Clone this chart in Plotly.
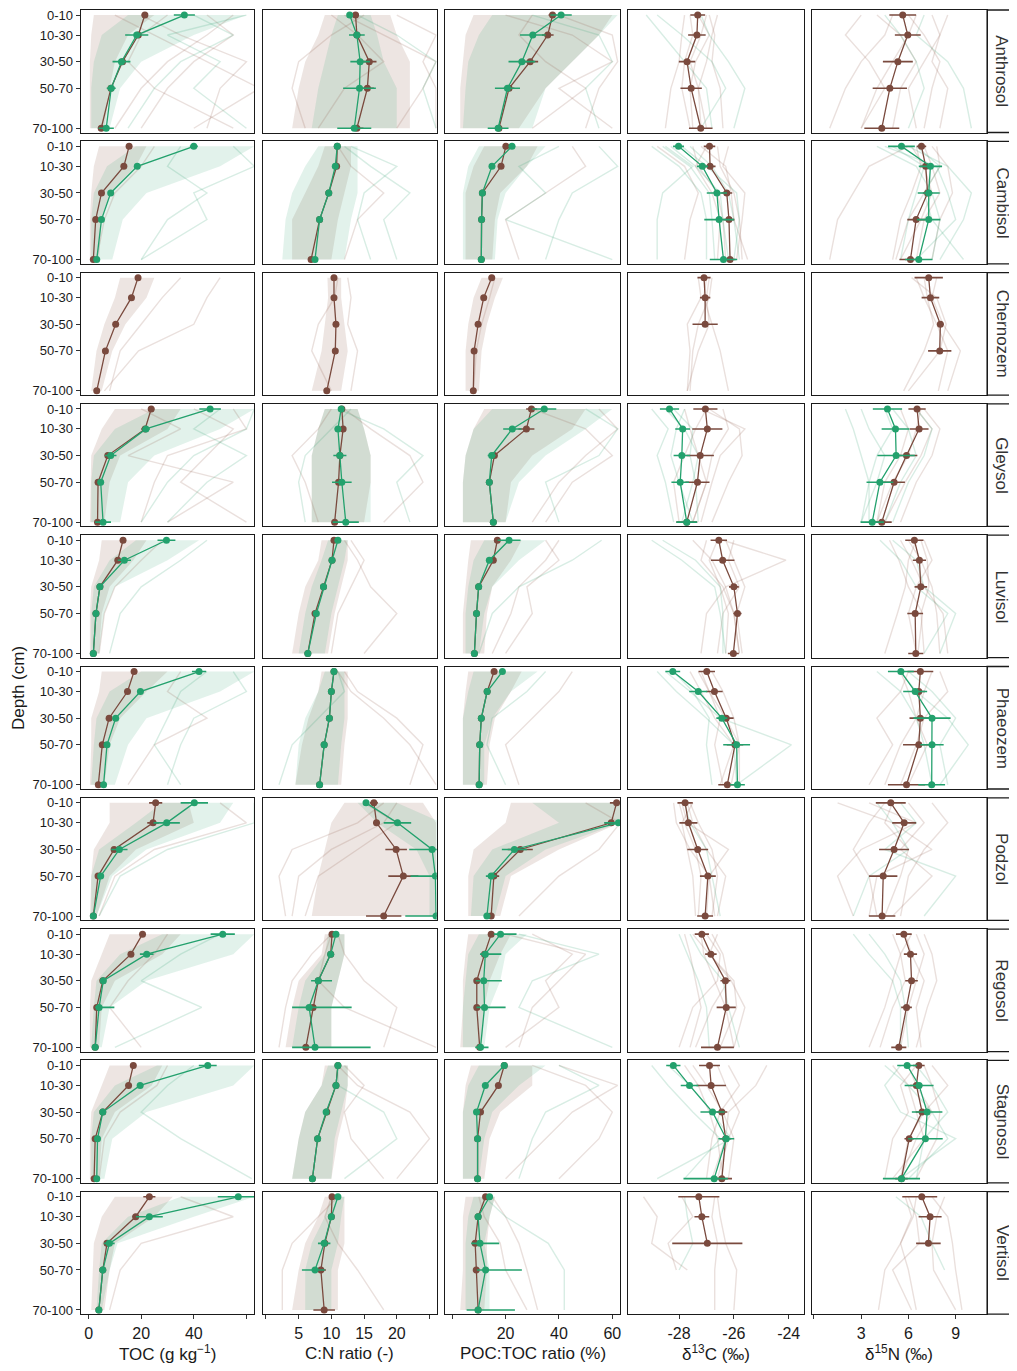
import plotly.graph_objects as go

# ------------------------------------------------------------------ data
SOILS = ["Anthrosol", "Cambisol", "Chernozem", "Gleysol", "Luvisol",
         "Phaeozem", "Podzol", "Regosol", "Stagnosol", "Vertisol"]
DEPTHS = ["0-10", "10-30", "30-50", "50-70", "70-100"]
DEPTH_POS = [5, 20, 40, 60, 90]
VARS = ["TOC", "CN", "POC", "D13C", "D15N"]
X_TITLES = ["TOC (g kg<sup>−1</sup>)", "C:N ratio (-)", "POC:TOC ratio (%)",
            "δ<sup>13</sup>C (‰)", "δ<sup>15</sup>N (‰)"]
X_TICKVALS = [[0, 20, 40], [5, 10, 15, 20], [20, 40, 60], [-28, -26, -24], [3, 6, 9]]
X_TICKTEXT = [["0", "20", "40"], ["5", "10", "15", "20"], ["20", "40", "60"],
              ["-28", "-26", "-24"], ["3", "6", "9"]]
X_MINOR_TICKS = [[60], [0, 25], [0], [], [0]]

# mean profiles (brown = b, green = g) and error half-widths ([minus, plus] when asymmetric)
TOC_B = {
    "Anthrosol": [21.4, 18.9, 12.9, 8.5, 4.8], "Cambisol": [15.4, 13.4, 4.9, 2.7, 1.8],
    "Chernozem": [18.8, 16.3, 10.3, 6.4, 3.1], "Gleysol": [23.8, 21.5, 7.3, 3.6, 3.4],
    "Luvisol": [13.1, 11.1, 4.3, 2.8, 1.8], "Phaeozem": [17.3, 14.8, 7.8, 5.2, 3.7],
    "Podzol": [25.5, 24.5, 9.7, 3.6, 1.8], "Regosol": [20.5, 16.1, 5.4, 3.1, 2.5],
    "Stagnosol": [17.0, 15.2, 5.4, 2.5, 2.1], "Vertisol": [23.1, 17.9, 7.0, 5.4, 3.9]}
TOC_B_ERR = {
    "Anthrosol": [1.2, 1.0, 0.8, 0.6, 0.8], "Cambisol": [0.8, 0.7, 0.4, 0.3, 0.3],
    "Chernozem": [0.8, 0.8, 0.6, 0.5, 0.4], "Gleysol": [1.2, 1.5, 0.8, 0.5, 0.5],
    "Luvisol": [0.6, 0.6, 0.4, 0.3, 0.3], "Phaeozem": [0.8, 0.8, 0.5, 0.4, 0.4],
    "Podzol": [2.5, 2.2, 1.0, 0.5, 0.3], "Regosol": [1.0, 1.0, 0.5, 0.4, 0.4],
    "Stagnosol": [0.8, 0.8, 0.5, 0.3, 0.3], "Vertisol": [2.3, 1.2, 1.0, 0.6, 0.8]}
TOC_G = {
    "Anthrosol": [36.4, 18.3, 12.5, 8.6, 6.7], "Cambisol": [40.0, 18.5, 8.4, 4.9, 3.1],
    "Gleysol": [46.2, 21.8, 8.4, 4.6, 5.5], "Luvisol": [29.6, 13.6, 4.3, 2.8, 1.8],
    "Phaeozem": [42.0, 19.7, 10.3, 7.0, 5.7], "Podzol": [40.2, 29.7, 11.7, 4.6, 1.8],
    "Regosol": [51.0, 22.1, 5.6, 4.0, 2.5], "Stagnosol": [45.3, 19.6, 5.4, 3.4, 3.1],
    "Vertisol": [56.9, 23.1, 7.9, 5.4, 3.9]}
TOC_G_ERR = {
    "Anthrosol": [4.0, 4.4, 3.4, 1.7, 2.9], "Cambisol": [1.5, 1.0, 0.6, 0.4, 0.3],
    "Gleysol": [4.1, 1.5, 2.2, 1.0, 3.0], "Luvisol": [3.4, 2.5, 0.6, 0.4, 0.3],
    "Phaeozem": [2.7, 1.2, 0.8, 0.6, 0.5], "Podzol": [5.2, 5.0, 3.1, 1.0, 0.5],
    "Regosol": [4.6, 2.6, 1.0, [1.5, 5.8], 1.2], "Stagnosol": [3.4, 1.2, 0.6, 0.4, 0.3],
    "Vertisol": [7.8, 5.1, 2.0, 0.8, 0.8]}

CN_B = {
    "Anthrosol": [13.7, 13.9, 15.8, 15.5, 13.9], "Cambisol": [10.9, 10.8, 9.6, 8.2, 6.9],
    "Chernozem": [10.4, 10.4, 10.7, 10.6, 9.3], "Gleysol": [11.6, 11.8, 11.3, 11.1, 10.5],
    "Luvisol": [10.4, 10.1, 8.8, 7.5, 6.4], "Phaeozem": [10.4, 10.0, 9.7, 8.9, 8.2],
    "Podzol": [16.5, 16.9, 19.9, 21.0, 18.0], "Regosol": [10.1, 9.9, 8.0, 7.2, 6.1],
    "Stagnosol": [11.0, 10.7, 9.3, 7.9, 7.1], "Vertisol": [10.1, 10.0, 9.0, 8.4, 8.9]}
CN_B_ERR = {
    "Anthrosol": [0.5, 0.6, 1.1, 1.0, 1.0], "Cambisol": [0.2, 0.2, 0.2, 0.2, 0.3],
    "Chernozem": [0.2, 0.2, 0.2, 0.2, 0.3], "Gleysol": [0.3, 0.3, 0.3, 0.3, 0.4],
    "Luvisol": [0.2, 0.2, 0.2, 0.2, 0.3], "Phaeozem": [0.2, 0.2, 0.2, 0.2, 0.3],
    "Podzol": [0.6, 0.5, 1.65, 2.3, 2.7], "Regosol": [0.2, 0.2, 0.3, 0.3, 0.5],
    "Stagnosol": [0.2, 0.2, 0.2, 0.2, 0.3], "Vertisol": [0.3, 0.3, 0.4, 0.77, 1.65]}
CN_G = {
    "Anthrosol": [12.8, 13.9, 14.4, 14.3, 13.5], "Cambisol": [10.9, 10.6, 9.6, 8.2, 7.5],
    "Gleysol": [11.5, 11.0, 11.3, 11.6, 12.2], "Luvisol": [11.0, 10.1, 8.8, 7.7, 6.4],
    "Phaeozem": [10.4, 10.0, 9.7, 8.9, 8.2], "Podzol": [15.3, 20.1, 25.4, 25.9, 26.0],
    "Regosol": [10.7, 9.9, 8.0, 6.6, 7.5], "Stagnosol": [11.0, 10.7, 9.2, 7.9, 7.1],
    "Vertisol": [11.0, 10.0, 8.9, 7.5, None]}
CN_G_ERR = {
    "Anthrosol": [0.3, 1.2, 1.5, 2.5, 2.6], "Cambisol": [0.2, 0.2, 0.2, 0.3, 0.3],
    "Gleysol": [0.3, 0.5, 1.0, 1.5, 2.0], "Luvisol": [0.2, 0.2, 0.2, 0.2, 0.3],
    "Phaeozem": [0.2, 0.2, 0.2, 0.2, 0.3], "Podzol": [0.4, 2.1, [3.5, 1.0], [3.8, 1.0], [4.7, 1.0]],
    "Regosol": [0.3, 0.3, [1.1, 2.1], [2.6, 6.5], [3.5, 8.5]], "Stagnosol": [0.2, 0.2, 0.3, 0.3, 0.3],
    "Vertisol": [0.3, 0.3, 0.95, [2.0, 1.5], None]}

POC_B = {
    "Anthrosol": [37.6, 35.8, 29.2, 21.3, 17.5], "Cambisol": [20.1, 18.3, 11.3, 11.0, 10.9],
    "Chernozem": [14.8, 11.8, 9.7, 8.2, 7.9], "Gleysol": [29.7, 27.8, 15.8, 13.9, 15.4],
    "Luvisol": [16.9, 15.4, 9.9, 9.1, 8.3], "Phaeozem": [15.7, 13.1, 10.9, 10.3, 10.1],
    "Podzol": [61.6, 59.6, 25.5, 15.6, 14.6], "Regosol": [14.6, 12.1, 9.2, 9.2, 10.3],
    "Stagnosol": [19.5, 17.3, 10.6, 9.5, 9.5], "Vertisol": [12.5, 9.7, 8.6, 9.0, 9.7]}
POC_B_ERR = {
    "Anthrosol": [1.5, 2.2, 3.0, 2.0, 1.2], "Cambisol": [0.8, 0.8, 0.6, 0.5, 0.5],
    "Chernozem": [0.8, 0.8, 0.6, 0.5, 0.5], "Gleysol": [2.0, 3.0, 1.0, 0.8, 0.8],
    "Luvisol": [0.8, 0.8, 0.6, 0.5, 0.5], "Phaeozem": [0.8, 0.8, 0.6, 0.5, 0.5],
    "Podzol": [2.5, 2.5, 4.7, 2.0, 1.0], "Regosol": [0.8, 0.8, 0.6, 0.5, 0.6],
    "Stagnosol": [0.8, 0.8, 0.6, 0.5, 0.5], "Vertisol": [0.8, 0.8, 0.6, 0.5, 0.5]}
POC_G = {
    "Anthrosol": [40.8, 30.2, 26.1, 20.7, 17.2], "Cambisol": [22.4, 14.9, 11.3, 11.0, 10.9],
    "Gleysol": [34.5, 22.5, 14.8, 13.9, 15.4], "Luvisol": [21.3, 13.9, 9.9, 9.1, 8.3],
    "Phaeozem": [18.8, 13.1, 10.9, 10.3, 10.1], "Podzol": [70.0, 62.3, 23.3, 14.6, 13.0],
    "Regosol": [18.1, 12.4, 11.8, 12.1, 10.6], "Stagnosol": [19.5, 12.4, 9.1, 9.5, 9.5],
    "Vertisol": [14.0, 9.7, 10.4, 12.5, 9.7]}
POC_G_ERR = {
    "Anthrosol": [4.0, 4.8, 5.0, 4.7, 3.9], "Cambisol": [1.2, 1.0, 0.6, 0.5, 0.5],
    "Gleysol": [4.5, 3.4, 1.5, 1.0, 1.0], "Luvisol": [4.3, 1.0, 0.6, 0.5, 0.5],
    "Phaeozem": [1.0, 0.8, 0.6, 0.5, 0.5], "Podzol": [5.0, 5.3, 4.7, 2.0, 1.2],
    "Regosol": [[2.5, 6.0], [2.0, 6.0], [3.0, 6.8], [3.0, 7.9], [2.0, 3.0]],
    "Stagnosol": [1.0, 0.8, 0.6, 0.5, 0.5],
    "Vertisol": [1.0, 0.8, [3.3, 7.2], [3.2, 13.6], [4.3, 13.8]]}

D13C_B = {
    "Anthrosol": [-27.32, -27.35, -27.71, -27.56, -27.21], "Cambisol": [-26.89, -26.87, -26.26, -26.18, -26.14],
    "Chernozem": [-27.09, -27.05, -27.05, None, None], "Gleysol": [-27.04, -26.97, -27.23, -27.33, -27.72],
    "Luvisol": [-26.55, -26.41, -26.0, -25.87, -26.02], "Phaeozem": [-26.99, -26.71, -26.28, -25.96, -26.24],
    "Podzol": [-27.78, -27.66, -27.32, -26.95, -27.05], "Regosol": [-27.17, -26.84, -26.31, -26.28, -26.6],
    "Stagnosol": [-26.89, -26.83, -26.44, -26.3, -26.44], "Vertisol": [-27.28, -27.17, -26.97, None, None]}
D13C_B_ERR = {
    "Anthrosol": [0.27, 0.32, 0.3, 0.39, 0.43], "Cambisol": [0.21, 0.2, 0.2, 0.2, 0.2],
    "Chernozem": [0.24, 0.19, 0.46, None, None], "Gleysol": [0.44, 0.55, 0.5, 0.44, 0.38],
    "Luvisol": [0.3, 0.43, 0.18, 0.15, 0.2], "Phaeozem": [0.3, 0.3, 0.27, 0.3, 0.33],
    "Podzol": [0.28, 0.33, 0.38, 0.29, 0.29], "Regosol": [0.26, 0.21, 0.18, 0.35, 0.6],
    "Stagnosol": [0.38, 0.54, 0.2, 0.2, 0.37], "Vertisol": [0.75, 0.27, 1.28, None, None]}
D13C_G = {
    "Cambisol": [-28.02, -27.15, -26.62, -26.54, -26.38], "Gleysol": [-28.35, -27.87, -27.9, -27.96, -27.72],
    "Phaeozem": [-28.23, -27.3, -26.44, -25.9, -25.87], "Stagnosol": [-28.21, -27.62, -26.78, -26.28, -26.72]}
D13C_G_ERR = {
    "Cambisol": [0.2, 0.2, 0.37, 0.54, 0.5], "Gleysol": [0.35, 0.27, 0.3, 0.32, 0.38],
    "Phaeozem": [0.27, 0.33, 0.2, 0.49, 0.27], "Stagnosol": [0.26, 0.32, 0.44, 0.29, [1.12, 0.5]]}

D15N_B = {
    "Anthrosol": [5.64, 5.96, 5.33, 4.82, 4.31], "Cambisol": [6.83, 7.1, 7.22, 6.49, 6.13],
    "Chernozem": [7.29, 7.4, 8.03, 7.99, None], "Gleysol": [6.55, 6.68, 5.88, 5.09, 4.31],
    "Luvisol": [6.38, 6.7, 6.79, 6.43, 6.47], "Phaeozem": [6.76, 6.66, 6.76, 6.66, 5.88],
    "Podzol": [4.88, 5.73, 5.09, 4.4, 4.33], "Regosol": [5.71, 6.13, 6.2, 5.88, 5.39],
    "Stagnosol": [6.66, 6.51, 6.87, 6.05, 5.56], "Vertisol": [6.85, 7.38, 7.27, None, None]}
D15N_B_ERR = {
    "Anthrosol": [0.85, 0.82, 0.95, 1.09, 1.11], "Cambisol": [0.3, 0.35, 0.3, 0.56, 0.7],
    "Chernozem": [0.9, 0.56, 0.2, 0.74, None], "Gleysol": [0.55, 0.6, 0.69, 0.69, 0.63],
    "Luvisol": [0.58, 0.42, 0.4, 0.5, 0.48], "Phaeozem": [0.82, 0.4, 0.69, 1.0, 1.18],
    "Podzol": [0.95, 0.76, 0.95, 0.9, 0.84], "Regosol": [0.5, 0.42, 0.4, 0.34, 0.48],
    "Stagnosol": [0.37, 0.4, 0.4, 0.3, 0.4], "Vertisol": [[1.24, 0.98], 0.73, 0.78, None, None]}
D15N_G = {
    "Cambisol": [5.56, 7.4, 7.29, 7.29, 6.66], "Gleysol": [4.67, 5.18, 5.22, 4.19, 3.7],
    "Phaeozem": [5.52, 6.43, 7.5, 7.5, 7.48], "Stagnosol": [5.92, 6.68, 7.19, 7.08, 5.56]}
D15N_G_ERR = {
    "Cambisol": [0.85, 0.74, 0.7, 0.74, 0.87], "Gleysol": [0.93, 0.88, 1.19, 0.85, 0.74],
    "Phaeozem": [0.82, 0.76, 1.18, 0.74, 0.85], "Stagnosol": [0.63, 0.92, 0.97, 1.1, 1.18]}

# background spread of individual profiles: dense core (lo, hi) and a few single profiles
TOC_BAND = {
    "Anthrosol": {"b": ([2, 1, 0.5, 0.5, 0.5], [25, 15, 10, 8, 6]), "g": ([15, 5, 2, 1, 1], [60, 40, 20, 12, 8])},
    "Cambisol": {"b": ([4, 2, 1, 0.5, 0.5], [22, 18, 8, 5, 4]), "g": ([18, 7, 2, 1, 1], [63, 50, 22, 13, 9])},
    "Chernozem": {"b": ([12, 10, 6, 3, 1], [25, 22, 14, 9, 5])},
    "Gleysol": {"b": ([10, 5, 1, 0.7, 0.5], [35, 30, 12, 8, 6]), "g": ([25, 10, 2, 1, 1], [63, 50, 25, 15, 12])},
    "Luvisol": {"b": ([5, 4, 1, 0.5, 0.5], [22, 17, 8, 5, 4]), "g": ([18, 8, 2, 1, 1], [42, 30, 10, 6, 4])},
    "Phaeozem": {"b": ([5, 4, 1, 1, 0.5], [30, 22, 12, 8, 6]), "g": ([20, 8, 3, 2, 1], [63, 50, 22, 15, 10])},
    "Podzol": {"b": ([8, 8, 2, 1, 0.5], [38, 40, 18, 8, 3]), "g": ([28, 18, 4, 1, 1], [55, 50, 22, 9, 3])},
    "Regosol": {"b": ([8, 5, 1, 0.5, 0.5], [35, 28, 10, 5, 4]), "g": ([28, 12, 3, 2, 1], [63, 55, 22, 8, 5])},
    "Stagnosol": {"b": ([8, 5, 1, 0.5, 0.5], [28, 24, 10, 5, 4]), "g": ([26, 10, 2, 1, 1], [63, 55, 22, 9, 6])},
    "Vertisol": {"b": ([10, 5, 2, 1.5, 1], [32, 25, 10, 8, 6]), "g": ([35, 15, 5, 4, 3], [63, 40, 11, 8, 5])}}
TOC_LINES = {
    "Anthrosol": {"b": [[45, 55, 40, 30, 20], [20, 35, 60, 50, 45], [10, 25, 45, 65, 40], [30, 20, 15, 25, 55], [55, 45, 30, 20, 10]],
                  "g": [[60, 30, 50, 40, 60], [40, 55, 35, 25, 15]]},
    "Cambisol": {"b": [[25, 20, 10, 6, 3]], "g": [[55, 63, 40, 45, 20], [35, 30, 45, 30, 20]]},
    "Chernozem": {"b": [[50, 45, 40, 19, 6], [35, 28, 20, 12, 8]]},
    "Gleysol": {"b": [[55, 60, 30, 25, 20], [40, 55, 45, 35, 60], [20, 35, 15, 55, 30]],
                "g": [[63, 60, 40, 30, 20], [50, 40, 60, 45, 30]]},
    "Luvisol": {"b": [[28, 20, 10, 6, 4]], "g": [[45, 35, 20, 12, 8]]},
    "Phaeozem": {"b": [[35, 30, 45, 25, 15]], "g": [[55, 60, 40, 35, 30], [45, 35, 30, 25, 35]]},
    "Podzol": {"b": [[50, 60, 25, 10, 4]], "g": [[63, 63, 30, 12, 4]]},
    "Regosol": {"b": [[30, 25, 15, 8, 20]], "g": [[50, 35, 20, 43, 10]]},
    "Stagnosol": {"b": [[30, 26, 12, 6, 4]], "g": [[40, 30, 20, 35, 62]]},
    "Vertisol": {"b": [[35, 55, 20, 12, 8]], "g": []}}

CN_BAND = {
    "Anthrosol": {"b": ([9, 8, 6, 5, 4], [19, 20, 22, 22, 22]), "g": ([11, 10, 9, 8, 7], [16, 17, 18, 20, 20])},
    "Cambisol": {"b": ([9, 8, 6, 4, 4], [13, 13, 12, 11, 10]), "g": ([8, 6, 4, 3, 2.5], [14, 14, 14, 13, 12])},
    "Chernozem": {"b": ([9.4, 9.5, 9, 8.5, 7], [11.5, 11.5, 12, 12.5, 11.5])},
    "Gleysol": {"b": ([9, 8, 7, 7, 7], [14, 15, 16, 16, 15]), "g": ([9, 8, 7, 7, 7], [14, 15, 16, 16, 16])},
    "Luvisol": {"b": ([8.5, 8, 6, 5, 4], [12.5, 12.5, 11.5, 10.5, 9.5]), "g": ([9.5, 8.5, 7, 6, 5], [12.5, 12, 11, 10, 9])},
    "Phaeozem": {"b": ([8.5, 8, 6.5, 5.5, 4.5], [12.5, 12.5, 12.5, 12, 11.5]), "g": ([9, 8, 6, 5, 4.5], [12, 12, 12, 11.5, 11])},
    "Podzol": {"b": ([12, 10, 9, 8, 7], [24, 26, 26, 26, 26]), "g": ([14, 17, 23, 25, 25], [20, 27, 27, 27, 27])},
    "Regosol": {"b": ([9, 8.5, 5, 4, 3], [12, 12, 11, 10, 10]), "g": ([9.5, 9, 6, 5, 4], [12, 12, 11, 10, 10])},
    "Stagnosol": {"b": ([9, 8.5, 6, 5, 4], [12.5, 12.5, 12, 11, 10]), "g": ([9.5, 8.5, 6, 5, 4], [12.5, 12.5, 11.5, 10.5, 10])},
    "Vertisol": {"b": ([9, 8, 6, 5, 4], [12, 12, 12, 11, 11]), "g": ([10, 9, 7, 6, 6], [12, 11.5, 11, 10, 10])}}
CN_LINES = {
    "Anthrosol": {"b": [[12, 18, 26, 24, 20], [15, 10, 5, 4, 6], [20, 26, 24, 26, 26], [10, 14, 18, 12, 8]], "g": [[14, 20, 26, 24, 26]]},
    "Cambisol": {"b": [[11, 13, 18, 14, 12]], "g": [[12, 16, 22, 18, 20], [13, 20, 15, 14, 16]]},
    "Chernozem": {"b": [[11, 10.5, 8, 7, 10], [12.5, 13, 12.5, 14, 13]]},
    "Gleysol": {"b": [[12, 16, 22, 24, 18], [10, 8, 4, 6, 8]], "g": [[11, 18, 24, 20, 22], [13, 10, 6, 5, 6]]},
    "Luvisol": {"b": [[12, 14, 16, 20, 15], [13, 15, 13, 11, 10]], "g": []},
    "Phaeozem": {"b": [[12, 14, 20, 24, 22], [11, 13, 18, 22, 26]], "g": [[11, 12, 8, 4, 2]]},
    "Podzol": {"b": [[18, 14, 4, 2, 3], [20, 18, 10, 5, 4], [15, 20, 14, 8, 6]], "g": []},
    "Regosol": {"b": [[10, 9, 8, 12, 26], [11, 12, 15, 20, 18], [10, 7, 4, 3, 2]], "g": []},
    "Stagnosol": {"b": [[11, 14, 22, 25, 20], [12, 15, 12, 13, 18]], "g": [[11, 11, 18, 20, 12]]},
    "Vertisol": {"b": [[10, 9, 11, 14, 18], [11, 8, 4, 2.5, 2.5]], "g": []}}

POC_BAND = {
    "Anthrosol": {"b": ([8, 5, 4, 3, 3], [60, 55, 45, 35, 25]), "g": ([15, 10, 6, 5, 4], [62, 55, 45, 35, 30])},
    "Cambisol": {"b": ([12, 8, 5, 5, 5], [32, 28, 18, 16, 15]), "g": ([10, 6, 4, 4, 4], [35, 28, 20, 17, 16])},
    "Chernozem": {"b": ([11, 8, 6, 5, 5], [19, 16, 13, 11, 10])},
    "Gleysol": {"b": ([12, 8, 5, 4, 4], [50, 45, 30, 22, 20]), "g": ([15, 8, 5, 4, 4], [60, 50, 35, 25, 20])},
    "Luvisol": {"b": ([7, 6, 5, 4, 4], [26, 22, 15, 13, 12]), "g": ([12, 8, 6, 5, 5], [35, 25, 15, 12, 10])},
    "Phaeozem": {"b": ([6, 5, 4, 4, 4], [26, 22, 16, 14, 13]), "g": ([8, 6, 4, 4, 4], [32, 22, 15, 12, 12])},
    "Podzol": {"b": ([22, 20, 8, 6, 6], [63, 63, 40, 22, 18]), "g": ([30, 40, 15, 8, 7], [63, 63, 35, 20, 16])},
    "Regosol": {"b": ([6, 5, 4, 4, 3], [22, 18, 14, 12, 11]), "g": ([10, 6, 5, 4, 4], [28, 20, 18, 14, 12])},
    "Stagnosol": {"b": ([7, 5, 4, 4, 4], [30, 30, 18, 14, 12]), "g": ([10, 6, 4, 4, 4], [35, 25, 15, 12, 10])},
    "Vertisol": {"b": ([5, 4, 4, 4, 3], [16, 14, 13, 13, 12]), "g": ([8, 6, 5, 5, 5], [16, 14, 12, 14, 14])}}
POC_LINES = {
    "Anthrosol": {"b": [[40, 60, 62, 55, 50], [20, 45, 60, 40, 60], [30, 25, 35, 50, 30]], "g": [[30, 55, 60, 50, 55]]},
    "Cambisol": {"b": [[45, 50, 35, 20, 25]], "g": [[55, 62, 45, 40, 35], [40, 25, 35, 20, 60]]},
    "Chernozem": {"b": [[16, 14, 11, 9, 8]]},
    "Gleysol": {"b": [[55, 62, 50, 40, 30], [30, 50, 60, 45, 35]], "g": [[50, 62, 55, 35, 40]]},
    "Luvisol": {"b": [[40, 35, 25, 22, 15], [35, 40, 28, 30, 20]], "g": [[56, 45, 25, 15, 10]]},
    "Phaeozem": {"b": [[45, 40, 30, 20, 25]], "g": [[35, 28, 15, 13, 20]]},
    "Podzol": {"b": [[50, 63, 55, 40, 25]], "g": []},
    "Regosol": {"b": [[30, 45, 35, 40, 20], [20, 50, 40, 30, 25]], "g": [[25, 55, 30, 25, 60]]},
    "Stagnosol": {"b": [[40, 62, 45, 35, 20], [30, 50, 60, 55, 40]], "g": [[40, 55, 35, 30, 25]]},
    "Vertisol": {"b": [[15, 20, 25, 28, 32], [10, 12, 18, 20, 28]], "g": [[12, 20, 36, 42, 42]]}}

D13C_LINES = {
    "Anthrosol": {"b": [[-27.6, -27.5, -27.8, -27.9, -27.6], [-27.0, -27.2, -27.6, -27.3, -27.0], [-27.3, -26.9, -27.4, -27.6, -27.5],
                        [-26.6, -26.8, -27.0, -27.3, -27.2], [-27.8, -27.9, -28.0, -28.3, -28.5], [-26.9, -26.7, -26.8, -26.5, -26.4]],
                  "g": [[-29.2, -28.6, -27.8, -27.0, -26.8], [-28.8, -27.9, -26.8, -26.3, -27.2], [-27.2, -26.9, -26.2, -25.6, -26.0]]},
    "Cambisol": {"b": [[-27.5, -27.3, -26.6, -26.4, -26.3], [-26.6, -26.5, -26.0, -25.8, -25.7], [-27.0, -27.4, -26.8, -26.5, -26.6],
                       [-26.2, -26.4, -25.6, -25.7, -25.9], [-28.8, -27.8, -27.3, -27.6, -27.8], [-27.2, -26.3, -26.1, -26.0, -25.5]],
                 "g": [[-28.6, -27.6, -26.9, -26.8, -26.7], [-29.0, -28.0, -27.2, -27.0, -27.0], [-27.6, -26.8, -26.2, -26.0, -25.8],
                       [-28.3, -27.4, -26.5, -26.4, -26.2], [-28.5, -27.5, -28.6, -28.8, -28.8], [-27.9, -27.0, -25.9, -25.8, -26.0]]},
    "Chernozem": {"b": [[-27.3, -27.2, -27.7, -27.6, -27.7], [-27.0, -27.1, -26.8, -26.5, -26.2], [-26.8, -26.9, -27.3, -27.5, -27.6],
                        [-26.9, -27.0, -26.9, -27.3, -27.7]]},
    "Gleysol": {"b": [[-27.2, -25.6, -26.5, -26.8, -27.2], [-26.4, -26.2, -26.8, -27.0, -27.5], [-27.8, -27.6, -27.3, -27.0, -27.5],
                      [-27.0, -27.4, -27.8, -28.2, -28.0], [-26.9, -25.8, -25.7, -26.2, -26.8]],
                "g": [[-29.0, -28.4, -28.8, -28.5, -28.2], [-28.5, -27.8, -27.3, -27.5, -27.9], [-27.8, -28.1, -28.3, -28.0, -27.5],
                      [-28.2, -27.5, -27.6, -27.4, -27.3]]},
    "Luvisol": {"b": [[-27.0, -27.2, -26.4, -26.0, -25.8], [-26.3, -26.0, -25.6, -25.9, -25.7], [-26.6, -26.9, -26.5, -26.2, -26.3],
                      [-27.5, -26.8, -26.3, -27.0, -27.2], [-26.4, -24.1, -26.3, -26.0, -25.8], [-26.0, -26.2, -25.8, -26.4, -26.6]],
                "g": [[-29.0, -27.9, -26.7, -26.5, -26.3], [-28.6, -27.4, -26.5, -26.4, -26.4]]},
    "Phaeozem": {"b": [[-27.3, -26.9, -26.3, -25.8, -25.8], [-26.8, -26.4, -26.0, -25.8, -26.1], [-27.2, -26.9, -26.5, -26.7, -26.4],
                       [-27.6, -27.2, -26.7, -26.0, -26.5]],
                 "g": [[-28.8, -28.1, -27.0, -26.0, -25.9], [-28.5, -27.6, -26.5, -23.9, -25.9], [-28.2, -27.5, -26.9, -27.0, -26.8]]},
    "Podzol": {"b": [[-28.0, -27.8, -27.4, -27.2, -27.3], [-27.6, -27.3, -26.8, -26.6, -26.8], [-28.2, -28.1, -27.6, -26.9, -26.7],
                     [-27.5, -27.9, -27.7, -27.5, -27.4], [-27.7, -27.5, -27.0, -26.3, -26.6], [-27.9, -27.7, -26.2, -26.9, -27.0]],
               "g": [[-27.8, -27.6, -27.0, -26.8, -26.5]]},
    "Regosol": {"b": [[-27.5, -26.9, -26.0, -25.9, -26.5], [-26.8, -26.4, -26.2, -26.8, -27.4], [-27.2, -27.1, -26.7, -26.3, -26.0],
                      [-26.6, -26.9, -26.1, -25.6, -26.0], [-27.8, -27.6, -27.4, -27.2, -27.6], [-27.0, -26.5, -26.6, -27.5, -28.0]],
                "g": [[-28.0, -27.7, -27.3, -27.0, -26.9], [-27.6, -27.2, -26.4, -26.2, -25.8]]},
    "Stagnosol": {"b": [[-27.5, -27.0, -26.4, -26.0, -26.2], [-26.2, -25.8, -26.5, -26.8, -27.0], [-26.6, -26.3, -25.8, -26.2, -26.6],
                        [-27.8, -27.3, -26.9, -26.6, -26.4], [-24.8, -25.2, -26.2, -26.3, -26.8]],
                  "g": [[-29.0, -28.4, -27.5, -26.5, -27.8], [-28.4, -27.6, -26.8, -26.1, -28.8]]},
    "Vertisol": {"b": [[-29.3, -28.8, -29.0, -27.7, None], [-26.7, -26.8, -26.6, -26.7, -26.7], [-26.6, -26.5, -26.3, -25.9, -26.0],
                       [-27.9, -27.5, -28.4, -28.1, None]],
                 "g": [[-27.8, -27.7, -27.5, -28.0, None]]}}

D15N_LINES = {
    "Anthrosol": {"b": [[5.0, 4.5, 3.0, 2.0, 1.0], [6.5, 6.0, 5.0, 4.0, 3.0], [7.5, 8.0, 7.0, 6.0, 6.5], [4.0, 5.5, 6.5, 5.5, 5.0],
                        [8.5, 8.0, 7.5, 8.5, 8.0], [3.0, 2.0, 3.5, 4.5, 3.0], [6.0, 7.0, 8.0, 7.5, 7.0]],
                  "g": [[4.5, 5.5, 6.5, 7.0, 6.0], [7.0, 6.5, 8.5, 9.5, 10.0]]},
    "Cambisol": {"b": [[6.0, 3.5, 2.5, 1.5, 1.0], [7.0, 7.5, 8.0, 7.0, 6.5], [6.5, 6.8, 6.2, 5.5, 5.0], [7.5, 8.5, 8.8, 8.0, 7.5],
                       [6.2, 7.0, 7.5, 6.8, 5.5], [7.8, 8.0, 7.0, 6.0, 5.2]],
                 "g": [[6.0, 8.5, 10.0, 9.5, 8.0], [4.0, 6.5, 7.5, 8.0, 7.5], [5.0, 7.0, 6.5, 6.0, 5.5], [4.5, 7.8, 8.5, 9.0, 6.5],
                       [6.5, 8.0, 7.0, 7.5, 9.5]]},
    "Chernozem": {"b": [[6.5, 7.0, 7.8, 8.5, 7.9], [7.8, 7.5, 8.2, 9.3, 8.5], [7.0, 7.2, 7.6, 7.0, 5.7], [6.2, 7.8, 8.4, 8.0, 6.0]]},
    "Gleysol": {"b": [[6.5, 7.5, 6.8, 5.8, 4.5], [7.0, 8.0, 7.5, 6.5, 5.5], [5.5, 6.0, 5.5, 4.5, 4.0], [6.8, 6.5, 6.0, 5.0, 4.0]],
                "g": [[3.0, 3.5, 4.5, 4.0, 3.0], [5.0, 6.0, 6.5, 5.5, 4.5], [4.5, 5.0, 4.0, 3.5, 3.0], [6.5, 7.5, 7.0, 6.0, 5.0],
                      [2.0, 2.5, 3.0, 3.5, 3.5]]},
    "Luvisol": {"b": [[6.0, 6.8, 7.5, 7.8, 8.0], [6.5, 6.0, 5.8, 5.3, 4.5], [7.0, 7.5, 6.5, 6.0, 6.5], [5.5, 6.2, 7.0, 8.2, 8.5],
                      [6.8, 7.2, 7.3, 6.8, 7.0], [4.8, 5.4, 6.0, 6.9, 6.6]],
                "g": [[4.2, 5.5, 6.5, 8.5, 7.0], [5.0, 6.5, 7.0, 9.0, 8.0]]},
    "Phaeozem": {"b": [[6.0, 5.5, 4.0, 5.0, 3.5], [7.5, 7.0, 6.5, 7.2, 6.0], [8.0, 8.5, 7.0, 6.5, 5.5], [5.5, 6.0, 6.5, 5.5, 4.5]],
                 "g": [[5.5, 6.5, 8.5, 9.8, 8.0], [4.0, 5.5, 6.5, 7.0, 7.5], [6.0, 7.5, 9.0, 8.0, 8.5]]},
    "Podzol": {"b": [[1.5, 5.0, 7.5, 4.0, 3.5], [3.5, 6.5, 3.0, 1.5, 2.5], [5.0, 4.5, 6.0, 5.5, 4.5], [6.0, 7.0, 5.5, 7.5, 5.0],
                     [4.5, 3.5, 2.5, 3.5, 4.0], [7.5, 8.5, 7.0, 6.0, 5.5]],
               "g": [[5.5, 6.5, 4.5, 9.0, 7.0], [4.0, 5.0, 6.0, 3.5, 2.5]]},
    "Regosol": {"b": [[5.0, 5.5, 5.8, 5.0, 4.2], [6.5, 7.0, 6.5, 6.0, 5.5], [5.8, 6.2, 7.0, 6.5, 6.8], [6.2, 5.5, 5.0, 4.5, 3.5],
                      [7.0, 7.5, 7.8, 7.2, 6.5]],
                "g": [[2.5, 3.5, 5.0, 5.5, 5.5], [3.5, 4.5, 5.5, 5.8, 6.0]]},
    "Stagnosol": {"b": [[6.0, 6.5, 7.5, 6.5, 5.5], [7.5, 8.5, 7.0, 6.0, 5.5], [6.5, 5.5, 6.0, 5.0, 4.5], [5.0, 6.0, 6.5, 7.0, 5.0],
                        [7.0, 7.5, 8.0, 7.8, 6.5]],
                  "g": [[4.5, 6.0, 7.5, 8.5, 6.0], [5.5, 4.5, 5.5, 9.0, 5.5], [6.5, 7.5, 8.5, 7.0, 6.5]]},
    "Vertisol": {"b": [[5.8, 6.2, 5.5, 4.5, 4.1], [8.3, 7.8, 7.5, 7.6, 9.0], [6.0, 6.5, 6.7, 5.0, 6.2], [7.5, 8.5, 8.8, 9.0, 9.4],
                       [6.5, 6.3, 5.5, 6.0, 6.5]],
                 "g": [[5.2, 6.8, 7.5, 8.3, None]]}}

# ------------------------------------------------------------------ styling / layout
# the page body adds an 8 px margin, so the figure is drawn 8 px in from the window corner
PAGE_OFF = 8
W, H = 1017 - PAGE_OFF, 1371 - 2 * PAGE_OFF
COL_L = [80.7, 263.0, 445.3, 628.4, 811.6]      # window pixel positions
COL_R = [254.3, 436.7, 620.3, 803.5, 987.1]
ROW_T0, ROW_PITCH, ROW_H = 10.0, 131.3, 122.5
XRANGES = [[-3, 63], [-0.45, 26.1], [-2.6, 63], [-29.85, -23.46], [-0.15, 11.0]]
YRANGE = [93.2, 1.2]
FONT = "Liberation Sans, Arial, Helvetica, sans-serif"
BROWN = "#7a4a3e"
GREEN = "#23a16d"
BG_COL = {"b": "rgba(150,100,85,{a})", "g": "rgba(60,165,118,{a})"}
MEAN_COL = {"b": BROWN, "g": GREEN}


def px(p):
    return (p - PAGE_OFF) / W


def py(p):
    return 1 - (p - PAGE_OFF) / H


MEANS = {
    "TOC": ({"b": TOC_B, "g": TOC_G}, {"b": TOC_B_ERR, "g": TOC_G_ERR}),
    "CN": ({"b": CN_B, "g": CN_G}, {"b": CN_B_ERR, "g": CN_G_ERR}),
    "POC": ({"b": POC_B, "g": POC_G}, {"b": POC_B_ERR, "g": POC_G_ERR}),
    "D13C": ({"b": D13C_B, "g": D13C_G}, {"b": D13C_B_ERR, "g": D13C_G_ERR}),
    "D15N": ({"b": D15N_B, "g": D15N_G}, {"b": D15N_B_ERR, "g": D15N_G_ERR}),
}
BANDS = {"TOC": TOC_BAND, "CN": CN_BAND, "POC": POC_BAND, "D13C": {}, "D15N": {}}
LINES = {"TOC": TOC_LINES, "CN": CN_LINES, "POC": POC_LINES, "D13C": D13C_LINES, "D15N": D15N_LINES}


def split_err(errs):
    minus, plus = [], []
    for e in errs:
        if e is None:
            minus.append(0)
            plus.append(0)
        elif isinstance(e, (list, tuple)):
            minus.append(e[0])
            plus.append(e[1])
        else:
            minus.append(e)
            plus.append(e)
    return minus, plus


fig = go.Figure()
layout = dict(template="none", width=W, height=H, autosize=False,
              margin=dict(l=0, r=0, t=0, b=0, pad=0),
              paper_bgcolor="white", plot_bgcolor="white", showlegend=False,
              font=dict(family=FONT, color="#1a1a1a"))
shapes, annotations = [], []

for r, soil in enumerate(SOILS):
    top = ROW_T0 + r * ROW_PITCH
    bot = top + ROW_H
    for c, var in enumerate(VARS):
        k = r * 5 + c + 1
        xa = "x" if k == 1 else f"x{k}"
        ya = "y" if k == 1 else f"y{k}"
        xkey = "xaxis" if k == 1 else f"xaxis{k}"
        ykey = "yaxis" if k == 1 else f"yaxis{k}"
        bottom_row = (r == len(SOILS) - 1)
        xax = dict(
            domain=[px(COL_L[c]), px(COL_R[c])], anchor=ya, range=XRANGES[c], automargin=False,
            showgrid=False, zeroline=False, showline=True, mirror=True,
            linecolor="#1a1a1a", linewidth=1.3, ticklabeloverflow="allow",
            tickmode="array", tickvals=X_TICKVALS[c], ticktext=X_TICKTEXT[c],
            ticks="outside" if bottom_row else "", ticklen=4, tickwidth=1.1, tickcolor="#333",
            showticklabels=bottom_row, tickfont=dict(size=16, color="#1a1a1a", family=FONT))
        if bottom_row and X_MINOR_TICKS[c]:
            xax["minor"] = dict(tickmode="array", tickvals=X_MINOR_TICKS[c], ticks="outside",
                                ticklen=4, tickwidth=1.1, tickcolor="#333", showgrid=False)
        layout[xkey] = xax
        layout[ykey] = dict(
            domain=[py(bot), py(top)], anchor=xa, range=YRANGE, automargin=False,
            showgrid=False, zeroline=False, showline=True, mirror=True,
            linecolor="#1a1a1a", linewidth=1.3, ticklabeloverflow="allow",
            tickmode="array", tickvals=DEPTH_POS, ticktext=DEPTHS,
            ticks="outside" if c == 0 else "", ticklen=4, tickwidth=1.1, tickcolor="#333",
            showticklabels=(c == 0), tickfont=dict(size=13, color="#1a1a1a", family=FONT))

        # background: dense core bands
        band = BANDS[var].get(soil, {})
        for g in ("b", "g"):
            if g in band:
                lo, hi = band[g]
                fig.add_trace(go.Scatter(
                    x=list(lo) + list(hi)[::-1], y=DEPTH_POS + DEPTH_POS[::-1],
                    xaxis=xa, yaxis=ya, mode="lines", fill="toself",
                    fillcolor=BG_COL[g].format(a=0.17 if g == "b" else 0.15),
                    line=dict(width=0), hoverinfo="skip"))
        # background: individual profiles
        lines = LINES[var].get(soil, {})
        for g in ("b", "g"):
            for prof in lines.get(g, []):
                fig.add_trace(go.Scatter(
                    x=prof, y=DEPTH_POS, xaxis=xa, yaxis=ya, mode="lines",
                    line=dict(color=BG_COL[g].format(a=0.2), width=1.4),
                    hoverinfo="skip"))

        # means with error bars
        means, errs = MEANS[var]
        for g in ("b", "g"):
            if soil not in means[g]:
                continue
            vals = means[g][soil]
            minus, plus = split_err(errs[g][soil])
            fig.add_trace(go.Scatter(
                x=vals, y=DEPTH_POS, xaxis=xa, yaxis=ya, mode="lines+markers",
                line=dict(color=MEAN_COL[g], width=1.3),
                marker=dict(color=MEAN_COL[g], size=7),
                error_x=dict(type="data", symmetric=False, array=plus, arrayminus=minus,
                             color=MEAN_COL[g], thickness=1.6, width=0),
                hoverinfo="skip"))

    # strip on the right
    shapes.append(dict(type="rect", xref="paper", yref="paper",
                       x0=px(COL_R[4]), x1=1.05, y0=py(bot), y1=py(top),
                       line=dict(color="#1a1a1a", width=1.3), fillcolor="white", layer="below"))
    annotations.append(dict(text=soil, xref="paper", yref="paper", x=px(1002),
                            y=py((top + bot) / 2), showarrow=False, textangle=90,
                            xanchor="center", yanchor="middle",
                            font=dict(size=17, color="#333", family=FONT)))

for c in range(5):
    annotations.append(dict(text=X_TITLES[c], xref="paper", yref="paper",
                            x=px((COL_L[c] + COL_R[c]) / 2), y=py(1353),
                            showarrow=False, xanchor="center", yanchor="middle",
                            font=dict(size=17, color="#1a1a1a", family=FONT)))
annotations.append(dict(text="Depth (cm)", xref="paper", yref="paper", x=px(18), y=py(688),
                        showarrow=False, textangle=-90, xanchor="center", yanchor="middle",
                        font=dict(size=17, color="#1a1a1a", family=FONT)))

layout["shapes"] = shapes
layout["annotations"] = annotations
fig.update_layout(**layout)
fig.write_html("out.html")
